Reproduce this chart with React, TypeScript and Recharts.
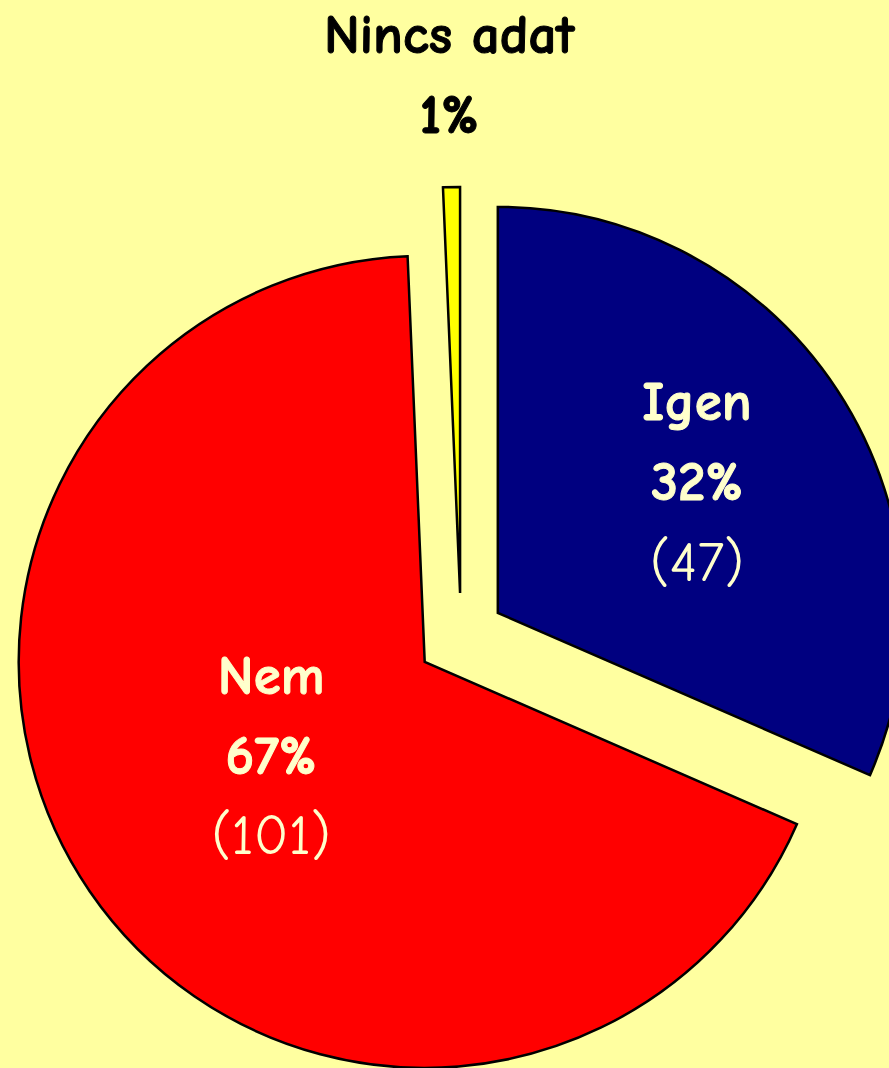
import { PieChart, Pie, Cell } from 'recharts';

const categories = ['Igen', 'Nem', 'Nincs adat'];
const counts = [47, 101, 1];
const percentLabels = ['32%', '67%', '1%'];
const countLabels = ['(47)', '(101)', ''];

const colors = ['#000080', '#FF0000', '#FFFF00'];
const textColors = ['#FFFFCC', '#FFFFCC', '#000000'];
// label distance from the slice tip, and a small turn off the mid angle
const labelRadius = [238, 180, 518];
const labelTurn = [0, 3, 0];

const W = 889;
const H = 1068;
const CX = 461;
const CY = 637;
const R = 406;
const EXPLODE = 44;
const FONT = '"Comic Sans MS", "Comic Neue", "DejaVu Sans", sans-serif';
const LINE = 80;

const data = categories.map((name, i) => ({ name, value: counts[i] }));
const total = counts.reduce((a, b) => a + b, 0);
// mid angle of each slice, degrees clockwise from 12 o'clock
const mids = counts.map((v, i) => {
  const before = counts.slice(0, i).reduce((a, b) => a + b, 0);
  return ((before + v / 2) / total) * 360;
});
const RAD = Math.PI / 180;

function makeLabel(i: number) {
  return (p: any) => {
    if (p.index !== i) return null;
    const a = (mids[i] + labelTurn[i]) * RAD;
    const x = p.cx + labelRadius[i] * Math.sin(a);
    const y = p.cy - labelRadius[i] * Math.cos(a);
    const lines = [
      { t: categories[i], bold: true },
      { t: percentLabels[i], bold: true },
      { t: countLabels[i], bold: false },
    ].filter((l) => l.t !== '');
    const n = lines.length;
    return (
      <g key={'lbl' + i}>
        {lines.map((l, j) => (
          <text
            key={j}
            x={x}
            y={y + (j - (n - 1) / 2) * LINE}
            textAnchor="middle"
            dominantBaseline="central"
            fill={textColors[i]}
            stroke={l.bold ? textColors[i] : 'none'}
            strokeWidth={l.bold ? 1 : 0}
            fontFamily={FONT}
            fontWeight={l.bold ? 700 : 400}
            fontSize={l.bold ? 55 : 57}
          >
            {l.t}
          </text>
        ))}
      </g>
    );
  };
}

export default function App() {
  return (
    <div style={{ width: W, height: H, background: '#FFFFA0', position: 'absolute', left: 0, top: 0 }}>
      <style>{'body{margin:0}'}</style>
      <PieChart width={W} height={H} margin={{ top: 0, right: 0, bottom: 0, left: 0 }}>
        {categories.map((c, i) => {
          const a = mids[i] * RAD;
          return (
            <Pie
              key={c}
              data={data}
              dataKey="value"
              nameKey="name"
              cx={CX + EXPLODE * Math.sin(a)}
              cy={CY - EXPLODE * Math.cos(a)}
              outerRadius={R}
              innerRadius={0}
              startAngle={90}
              endAngle={-270}
              paddingAngle={0}
              isAnimationActive={false}
              labelLine={false}
              label={makeLabel(i)}
            >
              {data.map((d, j) => (
                <Cell
                  key={d.name}
                  fill={j === i ? colors[j] : 'none'}
                  stroke={j === i ? '#000000' : 'none'}
                  strokeWidth={2.5}
                />
              ))}
            </Pie>
          );
        })}
      </PieChart>
    </div>
  );
}
